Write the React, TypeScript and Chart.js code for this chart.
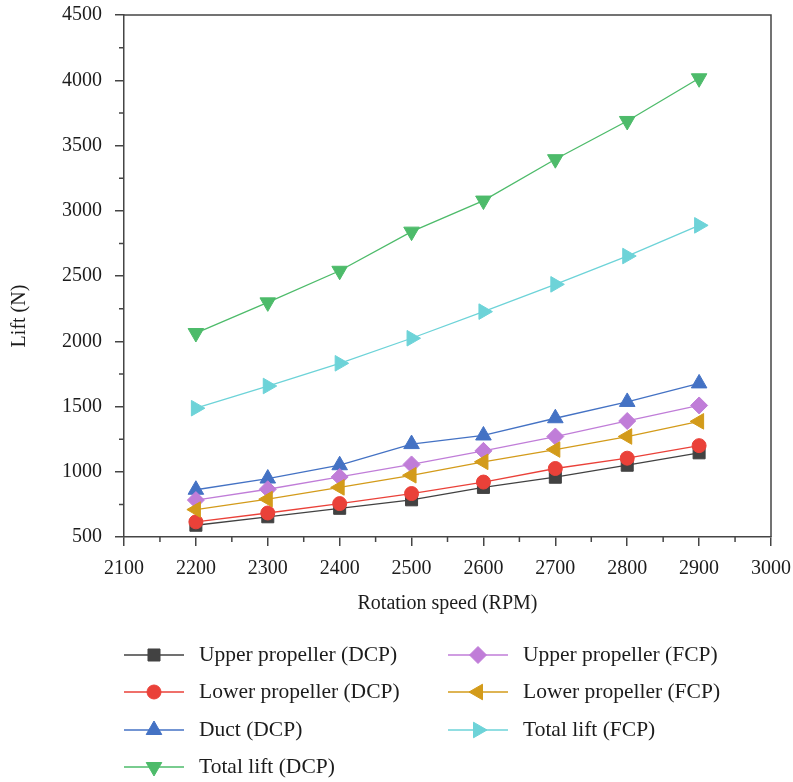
import React, { useEffect, useRef } from 'react';
import { Chart, registerables } from 'chart.js';
import { drawPoint } from 'chart.js/helpers';

Chart.register(...registerables);

// Rotation speed (RPM) at which lift was measured
const rpm = [2200, 2300, 2400, 2500, 2600, 2700, 2800, 2900];

// Lift (N) for each component
const upperDCP = [590, 655, 720, 785, 880, 958, 1050, 1145];
const lowerDCP = [616, 684, 756, 833, 921, 1025, 1104, 1200];
const ductDCP = [862, 948, 1050, 1212, 1278, 1410, 1535, 1677];
const totalDCP = [2063, 2298, 2540, 2840, 3078, 3395, 3688, 4015];
const upperFCP = [783, 866, 960, 1056, 1160, 1270, 1389, 1508];
const lowerFCP = [710, 790, 880, 973, 1076, 1170, 1270, 1386];
const totalFCP = [1487, 1657, 1831, 2023, 2227, 2436, 2653, 2888];

const seriesNames = [
  'Upper propeller (DCP)',
  'Lower propeller (DCP)',
  'Duct (DCP)',
  'Total lift (DCP)',
  'Upper propeller (FCP)',
  'Lower propeller (FCP)',
  'Total lift (FCP)',
];
const seriesValues = [upperDCP, lowerDCP, ductDCP, totalDCP, upperFCP, lowerFCP, totalFCP];
const seriesColors = ['#424242', '#ea4139', '#4472c4', '#4dbb6a', '#c07dd8', '#d39b1a', '#6dd3d8'];
const seriesShapes = ['rect', 'circle', 'triangle', 'triangle', 'rectRot', 'triangle', 'triangle'];
const seriesRotation = [0, 0, 0, 180, 0, -90, 90];
const seriesRadius = [8.5, 7, 9, 9, 8.5, 9, 9];

const xTicksRange = [2100, 3000];
const yTicksRange = [500, 4500];

const FONT = "'Liberation Serif', 'Times New Roman', serif";
const INK = '#1c1c1c';
const AXIS = '#454545';

// Legend layout: two columns, first four series left, remaining three right
const legendColumns = [124, 448];
const legendRows = [655, 692, 730, 767];

const decorPlugin = {
  id: 'decor',
  afterDraw(chart: any) {
    const { ctx, chartArea } = chart;
    const { left, top, right, bottom } = chartArea;
    const xs = chart.scales.x;
    const ys = chart.scales.y;
    ctx.save();

    // box around the plot
    ctx.strokeStyle = AXIS;
    ctx.lineWidth = 1.5;
    ctx.beginPath();
    ctx.moveTo(left, top);
    ctx.lineTo(right, top);
    ctx.lineTo(right, bottom);
    ctx.stroke();

    // minor ticks halfway between major ticks
    ctx.beginPath();
    const xt = xs.ticks;
    for (let i = 0; i < xt.length - 1; i++) {
      const px = xs.getPixelForValue((xt[i].value + xt[i + 1].value) / 2);
      ctx.moveTo(px, bottom);
      ctx.lineTo(px, bottom + 5);
    }
    const yt = ys.ticks;
    for (let i = 0; i < yt.length - 1; i++) {
      const py = ys.getPixelForValue((yt[i].value + yt[i + 1].value) / 2);
      ctx.moveTo(left, py);
      ctx.lineTo(left - 5, py);
    }
    ctx.stroke();

    // y-axis title
    ctx.fillStyle = INK;
    ctx.font = `20px ${FONT}`;
    ctx.textAlign = 'center';
    ctx.textBaseline = 'middle';
    ctx.translate(20, 316);
    ctx.rotate(-Math.PI / 2);
    ctx.fillText('Lift (N)', 0, 0);
    ctx.setTransform(1, 0, 0, 1, 0, 0);

    // legend
    chart.data.datasets.forEach((ds: any, i: number) => {
      const col = i < 4 ? 0 : 1;
      const row = i < 4 ? i : i - 4;
      const x0 = legendColumns[col];
      const y0 = legendRows[row];
      ctx.strokeStyle = ds.borderColor;
      ctx.lineWidth = ds.borderWidth;
      ctx.beginPath();
      ctx.moveTo(x0, y0);
      ctx.lineTo(x0 + 60, y0);
      ctx.stroke();
      ctx.fillStyle = ds.pointBackgroundColor;
      ctx.strokeStyle = ds.pointBorderColor;
      ctx.lineWidth = ds.pointBorderWidth;
      drawPoint(ctx, {
        pointStyle: ds.pointStyle,
        rotation: ds.pointRotation,
        radius: ds.pointRadius,
        borderWidth: ds.pointBorderWidth,
      } as any, x0 + 30, y0);
      ctx.fillStyle = INK;
      ctx.font = `21.5px ${FONT}`;
      ctx.textAlign = 'left';
      ctx.textBaseline = 'middle';
      ctx.fillText(ds.label, x0 + 75, y0);
    });
    ctx.restore();
  },
};

export default function App() {
  const canvasRef = useRef<HTMLCanvasElement | null>(null);

  useEffect(() => {
    if (!canvasRef.current) return;
    const datasets = seriesNames.map((name, i) => ({
      label: name,
      data: rpm.map((r, j) => ({ x: r, y: seriesValues[i][j] })),
      borderColor: seriesColors[i],
      backgroundColor: seriesColors[i],
      borderWidth: 1.3,
      pointStyle: seriesShapes[i],
      pointRotation: seriesRotation[i],
      pointRadius: seriesRadius[i],
      pointBackgroundColor: seriesColors[i],
      pointBorderColor: seriesColors[i],
      pointBorderWidth: 1,
      order: seriesNames.length - i,
      tension: 0,
    }));

    const plain = (v: any) => String(v);

    const chart = new Chart(canvasRef.current, {
      type: 'line',
      data: { datasets },
      plugins: [decorPlugin],
      options: {
        animation: false,
        responsive: false,
        events: [],
        layout: { padding: { left: 0, top: 15, right: 22, bottom: 165 } },
        plugins: { legend: { display: false }, tooltip: { enabled: false } },
        scales: {
          x: {
            type: 'linear',
            min: xTicksRange[0],
            max: xTicksRange[1],
            afterFit: (s: any) => {
              s.height = 80;
              s.paddingLeft = 0;
              s.paddingRight = 0;
            },
            border: { display: true, color: AXIS, width: 1.5 },
            grid: { display: true, drawOnChartArea: false, drawTicks: true, tickLength: 9, color: AXIS, lineWidth: 1.5 },
            ticks: { stepSize: 100, padding: 11, color: INK, font: { family: FONT, size: 20 }, callback: plain },
            title: { display: true, text: 'Rotation speed (RPM)', color: INK, padding: { top: 0, bottom: 1 }, font: { family: FONT, size: 20 } },
          },
          y: {
            type: 'linear',
            min: yTicksRange[0],
            max: yTicksRange[1],
            afterFit: (s: any) => {
              s.width = 124;
              s.paddingTop = 0;
              s.paddingBottom = 0;
            },
            border: { display: true, color: AXIS, width: 1.5 },
            grid: { display: true, drawOnChartArea: false, drawTicks: true, tickLength: 9, color: AXIS, lineWidth: 1.5 },
            ticks: { stepSize: 500, padding: 13, color: INK, font: { family: FONT, size: 20 }, callback: plain },
          },
        },
      },
    });
    return () => chart.destroy();
  }, []);

  return (
    <div style={{ position: 'absolute', left: 0, top: 0, width: 793, height: 782, background: '#fff' }}>
      <canvas ref={canvasRef} width={793} height={782} style={{ display: 'block' }} />
    </div>
  );
}
